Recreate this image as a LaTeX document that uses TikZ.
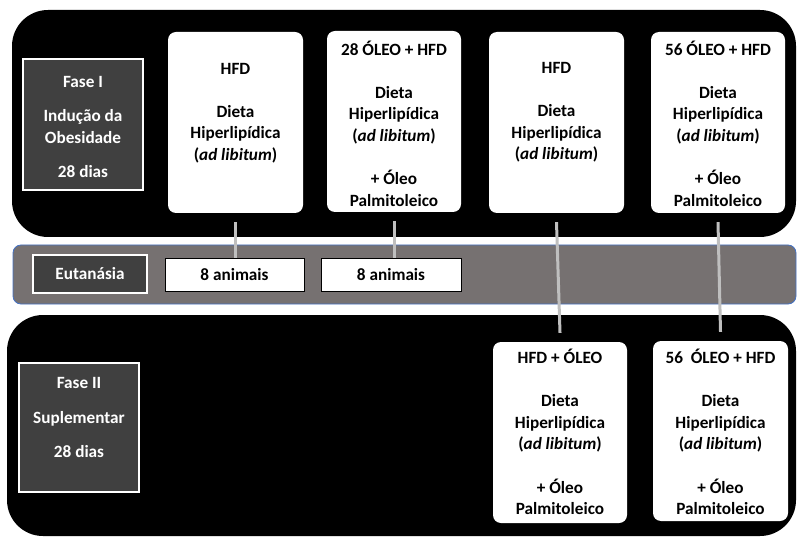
\documentclass[tikz,border=0pt]{standalone}
\usepackage{fontspec}
\setmainfont{Carlito}
\definecolor{phasegray}{HTML}{404040}
\definecolor{bandgray}{HTML}{767171}
\definecolor{bandblue}{HTML}{4472C4}
\definecolor{conngray}{HTML}{BFBFBF}
\begin{document}
\begin{tikzpicture}[x=1pt,y=-1pt,
  every node/.style={font=\fontsize{17.2}{21.6}\selectfont\bfseries},
  panel/.style={fill=black, rounded corners=36pt},
  band/.style={fill=bandgray, draw=bandblue, line width=0.8pt, rounded corners=8pt},
  card/.style={fill=white, rounded corners=8pt, inner sep=0pt},
  cardtext/.style={align=center, inner sep=0pt, text=black},
  phasebox/.style={fill=phasegray, draw=white, line width=1.6pt, inner sep=0pt},
  phasetext/.style={align=center, inner sep=0pt, text=white},
  animbox/.style={fill=white, draw=black, line width=0.8pt, inner sep=0pt, minimum height=33pt},
  conn/.style={draw=conngray, line width=3pt}]
\useasboundingbox (0,0) rectangle (797,537);
% panels
\fill[panel] (12,10) rectangle (796,237);
\draw[band] (13,245) rectangle (796,304);
\fill[panel] (7,315) rectangle (796,536);
% phase I
\node[phasebox, minimum width=120pt, minimum height=131pt] (f1) at (83,124.5) {};
\node[phasetext] (f1t) at (83,127) {Fase I\\[13pt]Indução da\\Obesidade\\[13pt]28 dias};
% phase I cards
\node[card, minimum width=135pt, minimum height=181pt] (c1) at (235.5,122.5) {};
\node[cardtext] (c1t) at (235.5,113) {HFD\\[21.6pt]Dieta\\Hiperlipídica\\(\textit{ad libitum})};
\node[card, minimum width=134pt, minimum height=181pt] (c2) at (394,121.5) {};
\node[cardtext] (c2t) at (394,123.5) {28 ÓLEO + HFD\\[21.6pt]Dieta\\Hiperlipídica\\(\textit{ad libitum})\\[21.6pt]+ Óleo\\Palmitoleico};
\node[card, minimum width=135pt, minimum height=181pt] (c3) at (556.5,122.5) {};
\node[cardtext] (c3t) at (556.5,112.5) {HFD\\[21.6pt]Dieta\\Hiperlipídica\\(\textit{ad libitum})};
\node[card, minimum width=134pt, minimum height=181pt] (c4) at (718,122.5) {};
\node[cardtext] (c4t) at (718,123.5) {56 ÓLEO + HFD\\[21.6pt]Dieta\\Hiperlipídica\\(\textit{ad libitum})\\[21.6pt]+ Óleo\\Palmitoleico};
% band
\node[phasebox, minimum width=114pt, minimum height=38pt, text=white] (eu) at (90,274) {Eutanásia};
\node[animbox, minimum width=139pt] (a1) at (234.5,274.5) {8 animais};
\node[animbox, minimum width=140pt] (a2) at (391,274.5) {8 animais};
% phase II
\node[phasebox, minimum width=120pt, minimum height=129pt] (f2) at (79,427.5) {};
\node[phasetext] (f2t) at (79,417.5) {Fase II\\[13pt]Suplementar\\[13pt]28 dias};
\node[card, minimum width=134pt, minimum height=181pt] (c5) at (560,432.5) {};
\node[cardtext] (c5t) at (560,432) {HFD + ÓLEO\\[21.6pt]Dieta\\Hiperlipídica\\(\textit{ad libitum})\\[21.6pt]+ Óleo\\Palmitoleico};
\node[card, minimum width=135pt, minimum height=180pt] (c6) at (720.5,431) {};
\node[cardtext] (c6t) at (720.5,432) {56\ \ ÓLEO + HFD\\[21.6pt]Dieta\\Hiperlipídica\\(\textit{ad libitum})\\[21.6pt]+ Óleo\\Palmitoleico};
% connectors
\draw[conn] ([yshift=-9pt]c1.south) -- (c1.south |- a1.north);
\draw[conn] ([yshift=-9pt]c2.south) -- (c2.south |- a2.north);
\draw[conn] ([yshift=-9pt]c3.south) -- ([yshift=9pt]c5.north);
\draw[conn] ([yshift=-9pt]c4.south) -- ([yshift=9pt]c6.north);
\end{tikzpicture}
\end{document}
